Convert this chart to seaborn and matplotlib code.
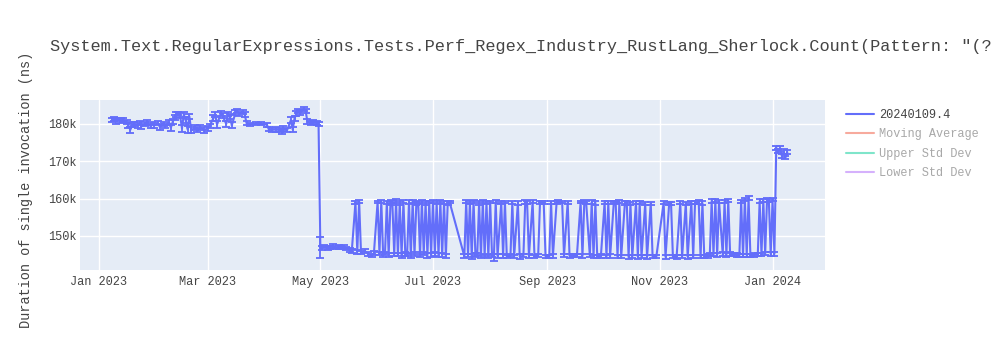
import matplotlib
matplotlib.use("Agg")
import matplotlib.pyplot as plt
import pandas as pd
import seaborn as sns
from matplotlib.lines import Line2D

# ---------------- data (values in thousands of ns) ----------------
days_2023_01 = [8, 9, 10, 11, 13, 14, 16, 17, 18, 19, 20, 22, 23, 24, 26, 27, 29, 30, 31]
vals_2023_01 = [181.0, 181.4, 180.7, 181.2, 180.9, 181.1, 180.5, 179.6, 178.4, 179.8, 180.0, 179.5, 180.2, 179.3, 179.9, 180.3, 179.4, 180.1, 179.6]
errs_2023_01 = [0.6, 0.5, 0.7, 0.5, 0.6, 0.5, 0.6, 0.7, 0.9, 0.6, 0.5, 0.7, 0.6, 0.6, 0.5, 0.7, 0.6, 0.5, 0.6]

days_2023_02 = [2, 3, 5, 6, 8, 9, 10, 11, 12, 13, 14, 15, 16, 17, 18, 19, 20, 22, 23, 25, 27]
vals_2023_02 = [180.2, 179.2, 180.0, 179.5, 180.4, 179.0, 180.6, 181.8, 182.5, 182.8, 182.2, 178.8, 182.5, 181.0, 178.6, 182.0, 178.3, 179.0, 178.5, 179.0, 178.4]
errs_2023_02 = [0.6, 0.7, 0.5, 0.6, 0.6, 0.8, 0.6, 0.7, 0.6, 0.5, 0.7, 0.9, 0.6, 0.8, 0.9, 0.7, 0.8, 0.6, 0.7, 0.6, 0.7]

days_2023_03 = [1, 2, 4, 5, 6, 8, 9, 11, 12, 13, 14, 16, 17, 18, 20, 21, 22, 24, 27, 30]
vals_2023_03 = [178.8, 179.5, 181.5, 182.5, 179.8, 182.8, 182.2, 180.0, 182.6, 182.0, 179.6, 183.0, 183.4, 182.7, 183.2, 182.5, 180.2, 179.9, 180.0, 180.0]
errs_2023_03 = [0.7, 0.6, 0.8, 0.6, 0.9, 0.6, 0.7, 0.8, 0.6, 0.7, 0.8, 0.6, 0.5, 0.6, 0.5, 0.7, 0.5, 0.4, 0.4, 0.4]

days_2023_04 = [2, 3, 5, 7, 9, 10, 11, 13, 15, 16, 17, 18, 19, 20, 22, 23, 24, 26, 27, 29, 30]
vals_2023_04 = [179.8, 178.6, 178.4, 178.5, 178.3, 178.0, 178.8, 178.4, 181.0, 178.5, 181.5, 182.8, 183.5, 183.0, 184.0, 183.4, 180.6, 180.2, 180.5, 180.3, 180.0]
errs_2023_04 = [0.5, 0.6, 0.5, 0.6, 0.5, 0.7, 0.6, 0.5, 0.8, 0.6, 0.7, 0.6, 0.5, 0.6, 0.5, 0.6, 0.6, 0.5, 0.5, 0.6, 0.5]

days_2023_05 = [1, 2, 3, 5, 6, 8, 9, 11, 12, 14, 15, 17, 18, 20, 21, 22, 23, 25, 27, 29, 30]
vals_2023_05 = [146.9, 146.8, 147.2, 146.7, 147.0, 147.3, 146.8, 147.1, 146.9, 147.2, 146.6, 146.2, 145.9, 159.0, 145.8, 159.3, 145.6, 146.0, 145.2, 144.9, 145.4]
errs_2023_05 = [2.7, 0.5, 0.4, 0.5, 0.4, 0.5, 0.4, 0.5, 0.4, 0.5, 0.4, 0.6, 0.5, 0.4, 0.5, 0.4, 0.5, 0.6, 0.5, 0.4, 0.5]

days_2023_06 = [1, 2, 3, 4, 5, 6, 7, 8, 9, 10, 11, 12, 13, 14, 15, 16, 17, 18, 19, 20, 21, 22, 23, 24, 25, 26, 27, 28, 29, 30]
vals_2023_06 = [159.1, 145.3, 159.3, 145.0, 145.2, 159.0, 144.9, 159.2, 158.8, 145.1, 159.4, 145.0, 158.9, 144.8, 159.2, 145.2, 145.0, 159.1, 144.7, 159.3, 145.1, 158.8, 159.0, 144.9, 159.2, 145.3, 158.9, 144.8, 159.1, 145.0]
errs_2023_06 = [0.4, 0.5, 0.4, 0.5, 0.4, 0.5, 0.6, 0.4, 0.5, 0.4, 0.5, 0.4, 0.5, 0.6, 0.4, 0.5, 0.4, 0.5, 0.6, 0.4, 0.5, 0.4, 0.5, 0.4, 0.5, 0.4, 0.5, 0.6, 0.4, 0.5]

days_2023_07 = [1, 2, 3, 4, 5, 6, 7, 8, 9, 10, 18, 19, 20, 21, 22, 23, 24, 25, 26, 27, 28, 29, 30, 31]
vals_2023_07 = [159.3, 145.2, 158.9, 144.9, 159.2, 145.0, 159.0, 144.7, 158.9, 159.1, 144.6, 159.2, 144.8, 159.0, 144.5, 159.3, 144.9, 145.1, 158.9, 144.6, 159.2, 144.7, 159.0, 144.5]
errs_2023_07 = [0.4, 0.5, 0.4, 0.5, 0.4, 0.5, 0.4, 0.6, 0.5, 0.4, 0.5, 0.4, 0.5, 0.4, 0.6, 0.4, 0.5, 0.4, 0.5, 0.4, 0.5, 0.4, 0.5, 0.4]

days_2023_08 = [1, 2, 3, 4, 5, 7, 8, 9, 10, 12, 13, 14, 16, 17, 19, 20, 21, 22, 24, 25, 27, 28, 29, 30, 31]
vals_2023_08 = [159.1, 144.8, 144.3, 159.2, 144.6, 158.9, 144.7, 159.1, 144.5, 144.8, 159.0, 144.6, 158.8, 144.5, 144.7, 159.1, 159.0, 144.6, 159.2, 144.5, 144.7, 159.0, 159.1, 159.0, 144.6]
errs_2023_08 = [0.4, 0.5, 1.0, 0.4, 0.5, 0.4, 0.5, 0.4, 0.5, 0.4, 0.5, 0.4, 0.5, 0.6, 0.4, 0.5, 0.4, 0.5, 0.4, 0.5, 0.4, 0.5, 0.4, 0.5, 0.4]

days_2023_09 = [2, 3, 4, 6, 7, 9, 10, 12, 13, 15, 17, 19, 20, 21, 22, 24, 25, 26, 27, 28, 30]
vals_2023_09 = [144.5, 158.9, 144.7, 159.0, 159.2, 159.1, 144.8, 159.0, 144.6, 144.7, 144.8, 159.1, 144.6, 159.2, 159.0, 144.7, 159.1, 144.5, 158.9, 144.6, 144.7]
errs_2023_09 = [0.5, 0.4, 0.5, 0.4, 0.5, 0.4, 0.5, 0.4, 0.5, 0.4, 0.5, 0.4, 0.5, 0.4, 0.5, 0.4, 0.5, 0.4, 0.5, 0.4, 0.5]

days_2023_10 = [2, 3, 4, 5, 7, 8, 9, 10, 11, 13, 14, 15, 16, 17, 19, 20, 21, 22, 24, 25, 27, 28, 30]
vals_2023_10 = [159.0, 144.5, 158.9, 144.6, 159.1, 159.0, 144.4, 159.2, 144.5, 158.9, 159.0, 144.3, 158.8, 144.5, 159.0, 144.4, 158.9, 144.5, 158.7, 144.3, 158.8, 144.5, 144.4]
errs_2023_10 = [0.4, 0.5, 0.4, 0.5, 0.4, 0.5, 0.4, 0.5, 0.4, 0.5, 0.4, 0.5, 0.4, 0.5, 0.4, 0.5, 0.4, 0.5, 0.4, 0.5, 0.4, 0.5, 0.4]

days_2023_11 = [3, 4, 6, 7, 8, 10, 12, 13, 15, 16, 18, 19, 20, 22, 23, 24, 25, 27, 28, 29, 30]
vals_2023_11 = [158.9, 144.4, 158.8, 158.7, 144.5, 144.4, 158.9, 144.5, 158.8, 144.4, 159.0, 144.5, 158.9, 159.1, 144.4, 158.8, 144.5, 144.6, 145.0, 159.4, 145.1]
errs_2023_11 = [0.4, 0.5, 0.4, 0.5, 0.4, 0.5, 0.4, 0.5, 0.4, 0.5, 0.4, 0.5, 0.4, 0.5, 0.4, 0.5, 0.4, 0.5, 0.4, 0.5, 0.4]

days_2023_12 = [1, 2, 3, 5, 6, 7, 8, 9, 11, 13, 14, 15, 16, 17, 18, 19, 20, 22, 24, 25, 26, 27, 28, 29, 30, 31]
vals_2023_12 = [159.5, 145.0, 159.3, 145.1, 159.2, 145.0, 159.4, 145.2, 145.1, 145.0, 144.7, 159.2, 144.8, 159.8, 144.9, 160.1, 144.8, 145.0, 145.1, 159.3, 145.0, 159.5, 145.2, 159.6, 159.4, 145.1]
errs_2023_12 = [0.4, 0.5, 0.4, 0.5, 0.4, 0.5, 0.4, 0.5, 0.4, 0.5, 0.4, 0.5, 0.4, 0.5, 0.4, 0.5, 0.4, 0.5, 0.4, 0.5, 0.4, 0.5, 0.4, 0.5, 0.4, 0.5]

days_2024_01 = [1, 2, 3, 4, 5, 6, 7, 8, 9]
vals_2024_01 = [159.8, 145.2, 173.6, 172.8, 173.4, 171.5, 172.6, 171.0, 172.4]
errs_2024_01 = [0.4, 0.5, 0.6, 0.5, 0.6, 0.5, 0.6, 0.5, 0.5]

series_name = "20240109.4"
legend_labels = ["20240109.4", "Moving Average", "Upper Std Dev", "Lower Std Dev"]
x_tick_dates = ["2023-01-01", "2023-03-01", "2023-05-01", "2023-07-01", "2023-09-01", "2023-11-01", "2024-01-01"]
x_tick_labels = ["Jan 2023", "Mar 2023", "May 2023", "Jul 2023", "Sep 2023", "Nov 2023", "Jan 2024"]
y_ticks = [150000, 160000, 170000, 180000]
y_tick_labels = ["150k", "160k", "170k", "180k"]
title = 'System.Text.RegularExpressions.Tests.Perf_Regex_Industry_RustLang_Sherlock.Count(Pattern: "(?'
y_label = "Duration of single invocation (ns)"

# ---------------- build table ----------------
months = [
    ("2023-01", days_2023_01, vals_2023_01, errs_2023_01),
    ("2023-02", days_2023_02, vals_2023_02, errs_2023_02),
    ("2023-03", days_2023_03, vals_2023_03, errs_2023_03),
    ("2023-04", days_2023_04, vals_2023_04, errs_2023_04),
    ("2023-05", days_2023_05, vals_2023_05, errs_2023_05),
    ("2023-06", days_2023_06, vals_2023_06, errs_2023_06),
    ("2023-07", days_2023_07, vals_2023_07, errs_2023_07),
    ("2023-08", days_2023_08, vals_2023_08, errs_2023_08),
    ("2023-09", days_2023_09, vals_2023_09, errs_2023_09),
    ("2023-10", days_2023_10, vals_2023_10, errs_2023_10),
    ("2023-11", days_2023_11, vals_2023_11, errs_2023_11),
    ("2023-12", days_2023_12, vals_2023_12, errs_2023_12),
    ("2024-01", days_2024_01, vals_2024_01, errs_2024_01),
]
rows = []
for mk, ds, vs, es in months:
    assert len(ds) == len(vs) == len(es), (mk, len(ds), len(vs), len(es))
    for d, v, e in zip(ds, vs, es):
        rows.append((pd.Timestamp(f"{mk}-{d:02d}"), v * 1000.0, e * 1000.0))
df = pd.DataFrame(rows, columns=["date", "ns", "err"])

# ---------------- style ----------------
sns.set_theme(style="darkgrid", rc={
    "axes.facecolor": "#e5ecf6",
    "grid.color": "white",
    "grid.linewidth": 1.0,
    "figure.facecolor": "white",
})
plt.rcParams["font.family"] = ["Liberation Mono", "DejaVu Sans Mono"]

BLUE = "#636efa"
TXT = "#444444"

fig = plt.figure(figsize=(10, 3.5), dpi=100)
ax = fig.add_axes([0.080, 1 - 270 / 350, 0.745, 170 / 350])

sns.lineplot(data=df, x="date", y="ns", ax=ax, color=BLUE, linewidth=1.5,
             estimator=None, sort=False, label=series_name, legend=False)
ax.errorbar(df["date"], df["ns"], yerr=df["err"], fmt="none", ecolor=BLUE,
            elinewidth=1.4, capsize=3, capthick=1.4, alpha=0.95)

ax.set_xlim(pd.Timestamp("2022-12-21 18:00"), pd.Timestamp("2024-01-29 10:00"))
ax.set_ylim(140900, 186400)

ax.set_xticks([pd.Timestamp(d) for d in x_tick_dates])
ax.set_xticklabels(x_tick_labels)
ax.set_yticks(y_ticks)
ax.set_yticklabels(y_tick_labels)
ax.tick_params(axis="both", length=0, labelsize=8.6, labelcolor=TXT)
ax.tick_params(axis="x", pad=4)
ax.tick_params(axis="y", pad=2.5)
ax.set_xlabel("")
ax.set_ylabel("")
for s in ax.spines.values():
    s.set_visible(False)

fig.text(0.050, 1 - 46 / 350, title, fontsize=12.2, color=TXT, ha="left", va="center")
fig.text(0.026, 1 - 190 / 350, y_label, fontsize=9.8, color=TXT, rotation=90,
         ha="center", va="center")

handles = [
    Line2D([], [], color=BLUE, lw=1.5),
    Line2D([], [], color="#f7aa9d", lw=1.5),
    Line2D([], [], color="#7fe5ca", lw=1.5),
    Line2D([], [], color="#d5b1fc", lw=1.5),
]
leg = fig.legend(handles, legend_labels, loc="upper left",
                 bbox_to_anchor=(0.846, 1 - 109 / 350), frameon=False,
                 fontsize=8.6, handlelength=2.35, handletextpad=0.45,
                 labelspacing=0.62, borderpad=0, borderaxespad=0)
for i, t in enumerate(leg.get_texts()):
    t.set_color(TXT if i == 0 else "#a8a8a8")

fig.savefig("out.png", dpi=100)
